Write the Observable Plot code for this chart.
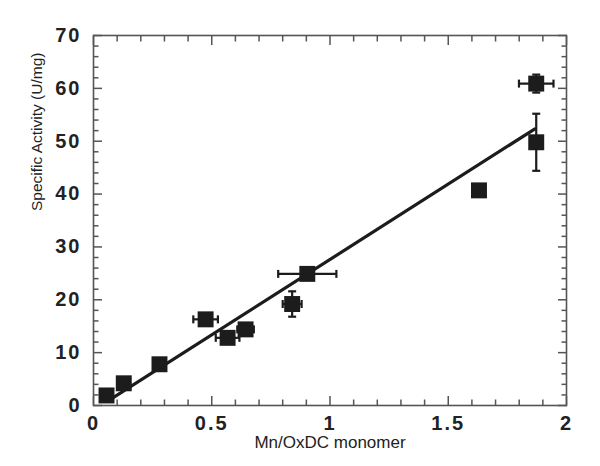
<!DOCTYPE html>
<html>
<head>
<meta charset="utf-8">
<script src="https://cdn.jsdelivr.net/npm/d3@7"></script>
<script src="https://cdn.jsdelivr.net/npm/@observablehq/plot@0.6"></script>
<style>
  html, body { margin: 0; padding: 0; background: #fff; }
  #chart svg { display: block; }
  #chart g[aria-label="x-axis tick label"] text,
  #chart g[aria-label="y-axis tick label"] text { letter-spacing: 2px; }
</style>
</head>
<body>
<div id="chart"></div>
<script>
// Mn content per OxDC monomer (x) vs specific activity (y)
const mnPerMonomer = [0.055, 0.128, 0.279, 0.474, 0.567, 0.643, 0.840, 0.904, 1.630, 1.872, 1.872];
const activity     = [1.9,   4.2,   7.8,   16.3,  12.8,  14.4,  19.2,  24.9,  40.7,  49.8,  60.9];
const xError       = [0,     0,     0,     0.052, 0.050, 0.035, 0.040, 0.123, 0,     0,     0.073];
const yError       = [0,     0,     0,     0.9,   0.6,   0.8,   2.4,   0.6,   0,     5.4,   1.7];

// linear fit line endpoints
const fitX = [0.07, 1.865];
const fitY = [1.1, 52.3];

// axis ticks
const xMajor = [0, 0.5, 1, 1.5, 2];
const xMinor = [0.1,0.2,0.3,0.4,0.6,0.7,0.8,0.9,1.1,1.2,1.3,1.4,1.6,1.7,1.8,1.9];
const yMajor = [0, 10, 20, 30, 40, 50, 60, 70];
const yMinor = [2,4,6,8,12,14,16,18,22,24,26,28,32,34,36,38,42,44,46,48,52,54,56,58,62,64,66,68];

const pts = mnPerMonomer.map((x, i) => ({x, y: activity[i], ex: xError[i], ey: yError[i]}));
const xErrPts = pts.filter(d => d.ex > 0);
const yErrPts = pts.filter(d => d.ey > 0);
const fit = fitX.map((x, i) => ({x, y: fitY[i]}));

const ink = "#1c1c1c";
const axisInk = "#555";

const vCap = {draw(ctx, size) { const h = Math.sqrt(size) / 2; ctx.moveTo(0, -h); ctx.lineTo(0, h); }};
const hCap = {draw(ctx, size) { const h = Math.sqrt(size) / 2; ctx.moveTo(-h, 0); ctx.lineTo(h, 0); }};

const minorLen = 5.5, majorLen = 9;
const tk = {text: null, label: null, stroke: axisInk, strokeWidth: 1.5};

const chart = Plot.plot({
  width: 600,
  height: 466,
  marginLeft: 93,
  marginRight: 34,
  marginTop: 35,
  marginBottom: 61,
  style: {fontFamily: "'Liberation Sans', Arial, sans-serif", background: "#fff", overflow: "visible"},
  x: {domain: [0, 2]},
  y: {domain: [0, 70]},
  marks: [
    // inward ticks on all four sides
    Plot.axisX({anchor: "bottom", ticks: xMinor, tickSize: minorLen, dy: -minorLen, ...tk}),
    Plot.axisX({anchor: "bottom", ticks: xMajor, tickSize: majorLen, dy: -majorLen, ...tk}),
    Plot.axisX({anchor: "top", ticks: xMinor, tickSize: minorLen, dy: minorLen, ...tk}),
    Plot.axisX({anchor: "top", ticks: xMajor, tickSize: majorLen, dy: majorLen, ...tk}),
    Plot.axisY({anchor: "left", ticks: yMinor, tickSize: minorLen, dx: minorLen, ...tk}),
    Plot.axisY({anchor: "left", ticks: yMajor, tickSize: majorLen, dx: majorLen, ...tk}),
    Plot.axisY({anchor: "right", ticks: yMinor, tickSize: minorLen, dx: -minorLen, ...tk}),
    Plot.axisY({anchor: "right", ticks: yMajor, tickSize: majorLen, dx: -majorLen, ...tk}),
    // tick labels
    Plot.axisX({anchor: "bottom", ticks: xMajor, tickSize: 0, tickPadding: 10, tickFormat: d => String(d),
      fontSize: 20, fontWeight: "bold", fill: "#222", label: null}),
    Plot.axisY({anchor: "left", ticks: yMajor, tickSize: 0, tickPadding: 12, tickFormat: d => String(d),
      fontSize: 20, fontWeight: "bold", fill: "#222", label: null}),
    // axis titles
    Plot.text(["Mn/OxDC monomer"], {frameAnchor: "bottom", dy: 42, text: d => d, fontSize: 17, fill: "#222"}),
    Plot.text(["Specific Activity (U/mg)"], {frameAnchor: "left", dx: -56, dy: -9.5, rotate: -90, text: d => d, fontSize: 15.5, fill: "#222"}),
    // frame
    Plot.frame({stroke: axisInk, strokeWidth: 1.6}),
    // fit line
    Plot.line(fit, {x: "x", y: "y", stroke: ink, strokeWidth: 3.2}),
    // error bars
    Plot.ruleY(xErrPts, {y: "y", x1: d => d.x - d.ex, x2: d => d.x + d.ex, stroke: ink, strokeWidth: 2.2}),
    Plot.dot(xErrPts, {x: d => d.x - d.ex, y: "y", symbol: vCap, r: 4.5, fill: "none", stroke: ink, strokeWidth: 2.2}),
    Plot.dot(xErrPts, {x: d => d.x + d.ex, y: "y", symbol: vCap, r: 4.5, fill: "none", stroke: ink, strokeWidth: 2.2}),
    Plot.ruleX(yErrPts, {x: "x", y1: d => d.y - d.ey, y2: d => d.y + d.ey, stroke: ink, strokeWidth: 2.2}),
    Plot.dot(yErrPts, {x: "x", y: d => d.y - d.ey, symbol: hCap, r: 4.5, fill: "none", stroke: ink, strokeWidth: 2.2}),
    Plot.dot(yErrPts, {x: "x", y: d => d.y + d.ey, symbol: hCap, r: 4.5, fill: "none", stroke: ink, strokeWidth: 2.2}),
    // data squares
    Plot.dot(pts, {x: "x", y: "y", symbol: "square", r: 9, fill: ink, stroke: "none"})
  ]
});
document.getElementById("chart").appendChild(chart);
</script>
</body>
</html>
